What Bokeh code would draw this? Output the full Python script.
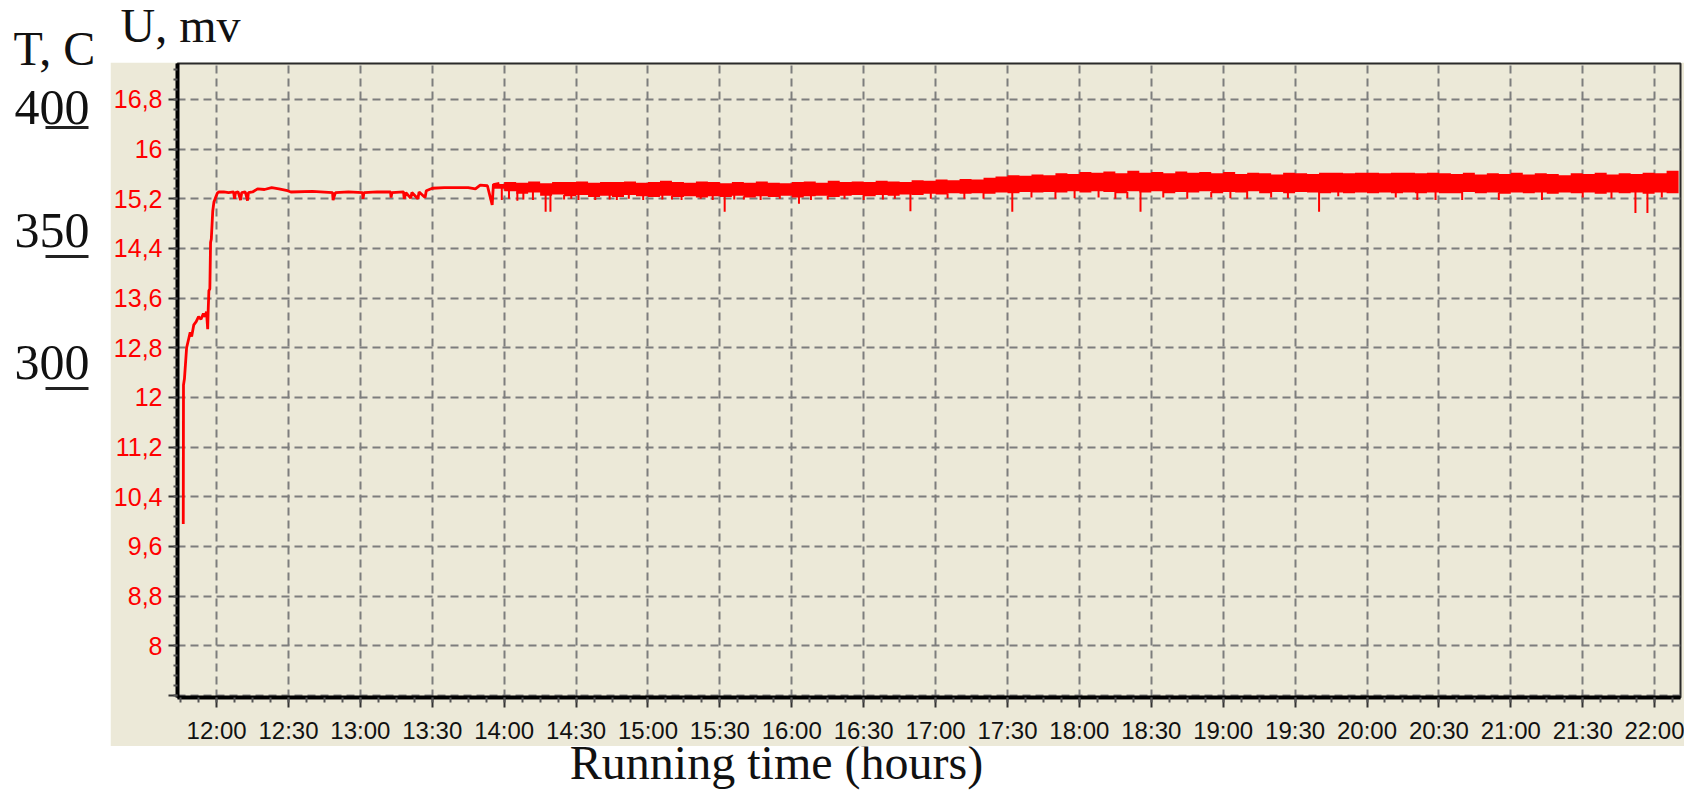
import numpy as np
from bokeh.plotting import figure
from bokeh.models import Range1d, FixedTicker, ColumnDataSource
from bokeh.layouts import row, column
from bokeh.embed import file_html
from bokeh.resources import INLINE
from bokeh.core.properties import value


def hours(s):
    h, m = s.split(":")
    return int(h) + float(m) / 60.0


# ---------------- data ----------------
# thin start-up trace (time "HH:MM.m", U in mV)
line_time = ["11:46.1", "11:46.2", "11:46.6", "11:47.5", "11:48.4", "11:49.0", "11:49.6",
             "11:50.5", "11:51.5", "11:52.5", "11:53.5", "11:54.5", "11:55.2", "11:55.8",
             "11:56.3", "11:56.5", "11:56.8", "11:57.2", "11:57.5", "11:57.8", "11:58.4",
             "11:58.9", "11:59.6", "12:00.3", "12:01", "12:03", "12:05", "12:07.1", "12:07.5",
             "12:07.9", "12:09", "12:10", "12:10.5", "12:12", "12:12.9", "12:13.3", "12:15",
             "12:17.1", "12:20", "12:23", "12:26", "12:29.6", "12:31", "12:40", "12:48.4",
             "12:48.6", "12:49.6", "12:55", "13:00.9", "13:01.1", "13:01.5", "13:07",
             "13:12.6", "13:12.8", "13:13.2", "13:18", "13:18.3", "13:19", "13:21",
             "13:21.5", "13:24", "13:24.5", "13:27", "13:27.5", "13:30", "13:35", "13:40",
             "13:45", "13:48", "13:50", "13:53", "13:55", "13:55.5", "13:58"]
line_u = [9.96, 12.2, 12.3, 12.8, 12.95, 13.05, 12.98,
          13.17, 13.22, 13.3, 13.26, 13.35, 13.3, 13.38,
          13.1, 13.4, 13.72, 13.75, 14.5, 14.55, 15.0,
          15.15, 15.22, 15.29, 15.31, 15.31, 15.30, 15.31, 15.2,
          15.3, 15.31, 15.18, 15.3, 15.31, 15.17, 15.3, 15.31,
          15.36, 15.35, 15.38, 15.36, 15.33, 15.31, 15.32, 15.30,
          15.18, 15.3, 15.31, 15.3, 15.2, 15.3, 15.31,
          15.31, 15.22, 15.3, 15.31, 15.2, 15.3, 15.21,
          15.3, 15.2, 15.31, 15.22, 15.33, 15.37, 15.38, 15.38,
          15.38, 15.36, 15.42, 15.41, 15.1, 15.43, 15.45]

# noisy band after 13:55 (5-minute slots): upper and lower edge of the trace
band_start = "13:55"
band_step_min = 5
band_hi = [15.44, 15.47, 15.46, 15.48, 15.45, 15.47, 15.47, 15.48, 15.46, 15.47,
           15.47, 15.48, 15.46, 15.47, 15.49, 15.47, 15.46, 15.48, 15.47, 15.45,
           15.47, 15.46, 15.48, 15.46, 15.45, 15.47, 15.48, 15.46, 15.49, 15.47,
           15.48, 15.47, 15.49, 15.48, 15.47, 15.50, 15.49, 15.51, 15.50, 15.52,
           15.51, 15.54, 15.56, 15.58, 15.57, 15.59, 15.58, 15.61, 15.60, 15.63,
           15.62, 15.64, 15.61, 15.65, 15.62, 15.63, 15.61, 15.64, 15.62, 15.63,
           15.61, 15.63, 15.60, 15.62, 15.61, 15.59, 15.62, 15.61, 15.60, 15.62,
           15.62, 15.61, 15.62, 15.62, 15.61, 15.62, 15.62, 15.61, 15.62, 15.61,
           15.60, 15.62, 15.59, 15.61, 15.60, 15.62, 15.59, 15.61, 15.60, 15.58,
           15.61, 15.60, 15.62, 15.59, 15.61, 15.60, 15.62, 15.61, 15.65, 15.64]
band_lo = [15.36, 15.32, 15.28, 15.30, 15.25, 15.27, 15.24, 15.26, 15.23, 15.25,
           15.23, 15.26, 15.24, 15.23, 15.25, 15.23, 15.24, 15.22, 15.24, 15.23,
           15.25, 15.22, 15.24, 15.23, 15.25, 15.22, 15.24, 15.25, 15.23, 15.25,
           15.26, 15.24, 15.26, 15.25, 15.27, 15.26, 15.28, 15.27, 15.29, 15.28,
           15.29, 15.28, 15.30, 15.29, 15.31, 15.30, 15.31, 15.30, 15.32, 15.30,
           15.32, 15.31, 15.29, 15.32, 15.30, 15.32, 15.29, 15.31, 15.30, 15.32,
           15.29, 15.31, 15.30, 15.32, 15.29, 15.31, 15.29, 15.31, 15.30, 15.29,
           15.30, 15.29, 15.30, 15.29, 15.30, 15.29, 15.30, 15.29, 15.30, 15.29,
           15.29, 15.31, 15.29, 15.30, 15.28, 15.30, 15.29, 15.30, 15.28, 15.30,
           15.29, 15.30, 15.28, 15.30, 15.29, 15.30, 15.28, 15.30, 15.29, 15.31]

# downward spikes of the trace (time, lowest U)
spike_time = ["13:59", "14:02", "14:05.5", "14:08", "14:12", "14:17.3", "14:19.3", "14:25",
              "14:28", "14:31", "14:38", "14:44", "14:47", "14:52", "14:58", "15:06",
              "15:10", "15:14", "15:22", "15:27", "15:32", "15:36", "15:40", "15:47",
              "15:55", "16:03", "16:08", "16:15", "16:22", "16:30", "16:38", "16:43",
              "16:49.5", "16:58", "17:05", "17:12", "17:20", "17:32", "17:40", "17:50",
              "17:58", "18:08", "18:15", "18:20", "18:25.5", "18:35", "18:45", "18:55",
              "19:03", "19:10", "19:20", "19:27", "19:40", "19:48", "20:12", "20:21",
              "20:28.6", "20:39.7", "20:55", "21:13", "21:30", "21:42", "21:52", "21:57",
              "22:03"]
spike_u = [15.18, 15.2, 15.17, 15.19, 15.18, 14.99, 14.99, 15.19,
           15.2, 15.18, 15.18, 15.19, 15.18, 15.2, 15.18, 15.19,
           15.19, 15.18, 15.2, 15.18, 14.99, 15.19, 15.19, 15.18,
           15.2, 15.12, 15.18, 15.19, 15.2, 15.18, 15.19, 15.2,
           15.0, 15.2, 15.21, 15.2, 15.2, 14.99, 15.22, 15.2,
           15.21, 15.22, 15.2, 15.21, 14.99, 15.22, 15.2, 15.22,
           15.21, 15.2, 15.22, 15.21, 14.99, 15.24, 15.22, 15.18,
           15.18, 15.18, 15.18, 15.18, 15.22, 15.21, 14.97, 14.97,
           15.22]

# axis ticks and labels
x_tick_labels = ["12:00", "12:30", "13:00", "13:30", "14:00", "14:30", "15:00", "15:30",
                 "16:00", "16:30", "17:00", "17:30", "18:00", "18:30", "19:00", "19:30",
                 "20:00", "20:30", "21:00", "21:30", "22:00"]
y_tick_values = [7.2, 8.0, 8.8, 9.6, 10.4, 11.2, 12.0, 12.8, 13.6, 14.4, 15.2, 16.0, 16.8]
y_tick_labels = ["", "8", "8,8", "9,6", "10,4", "11,2", "12", "12,8", "13,6", "14,4",
                 "15,2", "16", "16,8"]
t_scale_labels = ["400", "350", "300"]

# ---------------- build ----------------
BEIGE = "#ECE9D8"
RED = "#FF0000"
INK = "#111111"
SERIF = value("Liberation Serif")
SHIFT = 0.355  # measured offset of the alphabetic baseline in the svg output (em)

x_ticks = [hours(s) for s in x_tick_labels]
x_minor = [float(v) for v in np.arange(11.75, 22.2, 0.125)]
y_minor = [float(v) for v in np.arange(7.2, 17.4, 0.16)]

band_t0 = hours(band_start)
band_t = [band_t0 + i * band_step_min / 60.0 for i in range(len(band_hi))]
band_src = ColumnDataSource(dict(t=band_t, hi=band_hi, lo=band_lo))

sp_t = [hours(s) for s in spike_time]
sp_top = [band_lo[min(len(band_lo) - 1, max(0, int((t - band_t0) * 60 // band_step_min)))] + 0.02
          for t in sp_t]
spike_src = ColumnDataSource(dict(t=sp_t, top=sp_top, low=spike_u))
line_src = ColumnDataSource(dict(t=[hours(s) for s in line_time], u=line_u))

LEFT_W = 110
TOP_H = 62
MAIN_W, MAIN_H = 1574, 684
BOT_H = 796 - TOP_H - MAIN_H
BL, BR, BT, BB = 67, 4, 1, 47

p = figure(width=MAIN_W, height=MAIN_H,
           x_range=Range1d(hours("11:43.7"), hours("22:10.8")),
           y_range=Range1d(7.165, 17.38),
           output_backend="svg", toolbar_location=None,
           min_border_left=BL, min_border_right=BR, min_border_top=BT, min_border_bottom=BB,
           background_fill_color=BEIGE, border_fill_color=BEIGE,
           outline_line_color="#2a2a2a", outline_line_width=2)

xa = p.xaxis[0]
xa.ticker = FixedTicker(ticks=x_ticks, minor_ticks=x_minor)
xa.major_label_overrides = {t: l for t, l in zip(x_ticks, x_tick_labels)}
xa.major_label_text_font = "Liberation Sans"
xa.major_label_text_font_size = "24px"
xa.major_label_text_color = INK
xa.major_label_standoff = 9
xa.major_tick_out = 10
xa.major_tick_in = 0
xa.minor_tick_out = 5
xa.minor_tick_in = 0
xa.axis_line_width = 4
xa.axis_line_color = "#000000"
xa.major_tick_line_width = 2
xa.major_tick_line_color = "#333333"
xa.minor_tick_line_width = 2
xa.minor_tick_line_color = "#555555"

ya = p.yaxis[0]
ya.ticker = FixedTicker(ticks=y_tick_values, minor_ticks=y_minor)
ya.major_label_overrides = {t: l for t, l in zip(y_tick_values, y_tick_labels)}
ya.major_label_text_font = "Liberation Sans"
ya.major_label_text_font_size = "25px"
ya.major_label_text_color = RED
ya.major_label_standoff = 6
ya.major_tick_out = 9
ya.major_tick_in = 0
ya.minor_tick_out = 4
ya.minor_tick_in = 0
ya.axis_line_width = 4
ya.axis_line_color = "#000000"
ya.major_tick_line_width = 2
ya.major_tick_line_color = "#333333"
ya.minor_tick_line_width = 2
ya.minor_tick_line_color = "#555555"

p.xgrid[0].ticker = FixedTicker(ticks=x_ticks)
p.ygrid[0].ticker = FixedTicker(ticks=y_tick_values)
for g in (p.xgrid[0], p.ygrid[0]):
    g.grid_line_color = "#7d7d7d"
    g.grid_line_width = 2
    g.grid_line_dash = "8 5"

p.varea_step(x="t", y1="lo", y2="hi", step_mode="after", source=band_src,
             fill_color=RED, fill_alpha=1.0)
p.segment(x0="t", y0="top", x1="t", y1="low", source=spike_src,
          line_color=RED, line_width=2)
p.line(x="t", y="u", source=line_src, line_color=RED, line_width=2.8)


def blank(w, h):
    # helper canvas whose data coordinates equal canvas pixels (y downwards)
    f = figure(width=w, height=h, x_range=Range1d(0, w), y_range=Range1d(h, 0),
               x_axis_type=None, y_axis_type=None, output_backend="svg",
               toolbar_location=None, min_border=0,
               outline_line_color=None,
               background_fill_color="white", border_fill_color="white")
    f.grid.visible = False
    return f


def put_text(f, x, baseline, texts, size, align="left"):
    f.text(x=x, y=[b - SHIFT * size for b in baseline], text=texts, text_font=SERIF,
           text_font_size=f"{size}px", text_align=align, text_baseline="alphabetic",
           text_color=INK)


# left strip over the full height: temperature title and scale
lf = blank(LEFT_W, TOP_H + MAIN_H + BOT_H)
put_text(lf, [13], [65], ["T, C"], 48)
put_text(lf, [14, 14, 14], [125, 248, 380], t_scale_labels, 50)
lf.segment(x0=[45, 45, 45], y0=[127, 256, 388], x1=[88, 88, 88], y1=[127, 256, 388],
           line_color="#222222", line_width=3)

# top strip: voltage title
tf = blank(MAIN_W, TOP_H)
put_text(tf, [10], [42], ["U, mv"], 48)

# bottom strip: x axis title (centre of page x 776)
bf = blank(MAIN_W, BOT_H)
put_text(bf, [666], [33], ["Running time (hours)"], 48, align="center")

layout = row(lf, column(tf, row(p), bf))

open("out.html", "w").write(file_html(layout, INLINE))
